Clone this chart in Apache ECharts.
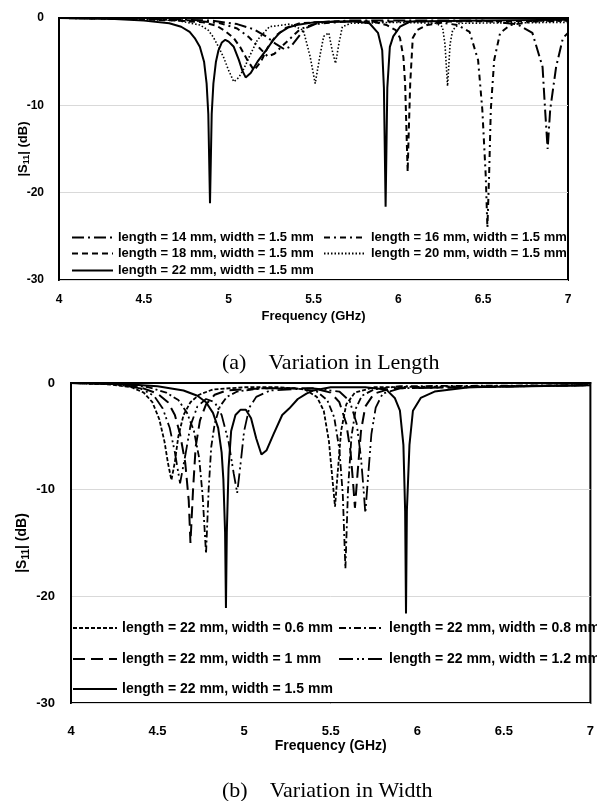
<!DOCTYPE html>
<html><head><meta charset="utf-8">
<script src="https://cdn.jsdelivr.net/npm/echarts@6/dist/echarts.min.js"></script>
<style>html,body{margin:0;padding:0;background:#fff}#c{width:597px;height:801px}</style>
</head><body><div id="c"></div>
<script>
// ---------- DATA ----------
const freqRange = [4, 7];
const dbRange = [-30, 0];
const captionA = '(a)    Variation in Length';
const captionB = '(b)    Variation in Width';

const namesA = [
  'length = 14 mm, width = 1.5 mm',
  'length = 16 mm, width = 1.5 mm',
  'length = 18 mm, width = 1.5 mm',
  'length = 20 mm, width = 1.5 mm',
  'length = 22 mm, width = 1.5 mm'
];
const namesB = [
  'length = 22 mm, width = 0.6 mm',
  'length = 22 mm, width = 0.8 mm',
  'length = 22 mm, width = 1 mm',
  'length = 22 mm, width = 1.2 mm',
  'length = 22 mm, width = 1.5 mm'
];

// (a) variation in length: [GHz, dB]
const len14 = [[4.00,0],[4.60,-0.1],[4.90,-0.3],[5.05,-0.7],[5.15,-1.3],[5.22,-2.1],[5.28,-3.0],[5.33,-3.6],[5.37,-3.2],[5.41,-2.2],[5.45,-1.2],[5.52,-0.6],[5.70,-0.3],[6.50,-0.3],[6.70,-0.7],[6.79,-1.7],[6.85,-5.6],[6.865,-10.5],[6.88,-15.0],[6.895,-10.5],[6.93,-5.6],[6.97,-2.3],[7.00,-1.7]];
const len16 = [[4.00,0],[4.50,-0.1],[4.80,-0.3],[4.95,-0.6],[5.05,-1.2],[5.12,-2.2],[5.18,-3.4],[5.23,-4.4],[5.27,-4.1],[5.31,-3.3],[5.36,-2.4],[5.42,-1.3],[5.50,-0.7],[5.70,-0.4],[6.20,-0.4],[6.35,-0.8],[6.42,-1.6],[6.47,-4.8],[6.495,-10.5],[6.515,-18.0],[6.525,-24.0],[6.535,-18.0],[6.545,-10.5],[6.565,-4.8],[6.60,-1.7],[6.66,-0.8],[6.80,-0.4],[7.00,-0.3]];
const len18 = [[4.00,0],[4.40,-0.1],[4.70,-0.3],[4.85,-0.5],[4.93,-0.9],[4.98,-1.5],[5.03,-2.3],[5.07,-3.4],[5.11,-4.8],[5.15,-6.0],[5.19,-5.0],[5.23,-3.4],[5.28,-2.0],[5.34,-1.1],[5.42,-0.6],[5.60,-0.4],[5.85,-0.4],[5.93,-0.8],[5.985,-1.4],[6.01,-2.3],[6.03,-4.5],[6.04,-7.5],[6.05,-14.3],[6.055,-17.6],[6.06,-14.0],[6.07,-7.5],[6.085,-2.3],[6.11,-1.4],[6.17,-0.8],[6.30,-0.4],[7.00,-0.3]];
const len20 = [[4.00,0],[4.40,-0.1],[4.70,-0.3],[4.83,-0.8],[4.88,-1.4],[4.91,-2.2],[4.94,-3.3],[4.97,-4.5],[5.00,-6.0],[5.03,-7.3],[5.06,-6.8],[5.09,-5.8],[5.12,-4.5],[5.17,-2.5],[5.24,-1.0],[5.36,-0.7],[5.44,-1.4],[5.48,-4.4],[5.51,-7.5],[5.54,-4.1],[5.56,-2.1],[5.59,-1.7],[5.61,-3.7],[5.63,-5.2],[5.65,-2.9],[5.67,-1.0],[5.72,-0.6],[6.00,-0.5],[6.22,-0.6],[6.26,-1.0],[6.275,-3.0],[6.29,-7.8],[6.305,-3.0],[6.32,-1.4],[6.36,-0.6],[7.00,-0.5]];
const len22 = [[4.00,0],[4.30,-0.1],[4.50,-0.3],[4.65,-0.6],[4.72,-1.0],[4.77,-1.6],[4.80,-2.3],[4.83,-3.3],[4.855,-5.0],[4.87,-7.5],[4.88,-11.0],[4.89,-21.2],[4.90,-11.0],[4.91,-7.5],[4.925,-5.0],[4.94,-3.7],[4.96,-2.8],[4.98,-2.5],[5.00,-2.7],[5.03,-3.3],[5.06,-4.8],[5.08,-6.0],[5.10,-6.8],[5.13,-6.3],[5.17,-5.0],[5.22,-3.7],[5.26,-2.6],[5.30,-1.7],[5.35,-1.1],[5.40,-0.8],[5.50,-0.5],[5.65,-0.4],[5.75,-0.4],[5.83,-0.6],[5.88,-1.7],[5.905,-3.7],[5.915,-8.0],[5.925,-21.6],[5.935,-8.0],[5.95,-3.3],[5.97,-2.1],[6.01,-1.0],[6.07,-0.4],[6.50,-0.3],[7.00,-0.2]];

// (b) variation in width: [GHz, dB]
const wid06 = [[4.00,0],[4.20,-0.1],[4.35,-0.4],[4.42,-0.9],[4.47,-1.8],[4.51,-3.4],[4.54,-5.5],[4.56,-7.5],[4.58,-9.1],[4.60,-7.4],[4.62,-5.0],[4.65,-3.0],[4.69,-1.8],[4.74,-1.1],[4.82,-0.6],[5.00,-0.4],[5.20,-0.4],[5.35,-0.6],[5.42,-1.3],[5.46,-2.6],[5.49,-5.5],[5.51,-9.0],[5.525,-11.6],[5.54,-8.5],[5.56,-4.5],[5.59,-2.0],[5.64,-0.9],[5.75,-0.4],[7.00,-0.2]];
const wid08 = [[4.00,0],[4.30,-0.1],[4.45,-0.4],[4.55,-0.9],[4.62,-1.6],[4.67,-2.8],[4.71,-4.5],[4.74,-7.0],[4.76,-10.5],[4.78,-16.0],[4.795,-10.0],[4.81,-6.0],[4.83,-3.8],[4.86,-2.2],[4.90,-1.3],[4.96,-0.8],[5.10,-0.5],[5.30,-0.5],[5.42,-0.8],[5.48,-1.6],[5.52,-3.2],[5.55,-6.2],[5.57,-10.5],[5.585,-17.4],[5.60,-10.0],[5.62,-5.0],[5.645,-2.4],[5.68,-1.2],[5.75,-0.6],[5.90,-0.3],[7.00,-0.2]];
const wid10 = [[4.00,0],[4.25,-0.1],[4.40,-0.4],[4.50,-1.0],[4.56,-1.8],[4.60,-3.0],[4.63,-4.8],[4.66,-7.5],[4.68,-11.0],[4.69,-15.0],[4.705,-10.0],[4.72,-6.0],[4.745,-3.5],[4.78,-2.0],[4.83,-1.1],[4.90,-0.7],[5.10,-0.5],[5.40,-0.5],[5.50,-0.9],[5.55,-1.8],[5.59,-3.8],[5.615,-6.5],[5.63,-9.5],[5.64,-11.7],[5.655,-8.5],[5.675,-4.5],[5.70,-2.2],[5.75,-1.0],[5.85,-0.5],[7.00,-0.2]];
const wid12 = [[4.00,0],[4.25,-0.1],[4.40,-0.5],[4.48,-1.2],[4.53,-2.4],[4.57,-4.2],[4.60,-6.5],[4.63,-9.4],[4.66,-6.8],[4.69,-4.0],[4.73,-2.2],[4.78,-1.5],[4.83,-1.8],[4.87,-3.0],[4.91,-5.5],[4.94,-8.5],[4.96,-10.3],[4.98,-7.5],[5.00,-4.5],[5.03,-2.3],[5.07,-1.3],[5.15,-0.7],[5.40,-0.5],[5.55,-0.8],[5.61,-1.7],[5.65,-3.8],[5.675,-7.0],[5.69,-10.0],[5.70,-12.2],[5.715,-9.0],[5.735,-4.8],[5.76,-2.3],[5.80,-1.0],[5.90,-0.5],[7.00,-0.2]];
const wid15 = [[4.00,0],[4.30,-0.1],[4.50,-0.3],[4.65,-0.7],[4.73,-1.2],[4.78,-1.8],[4.82,-2.8],[4.85,-4.2],[4.87,-6.5],[4.88,-9.0],[4.89,-14.0],[4.895,-21.1],[4.90,-14.0],[4.91,-8.0],[4.925,-4.5],[4.95,-3.0],[4.98,-2.5],[5.01,-2.5],[5.04,-3.3],[5.07,-5.2],[5.10,-6.7],[5.13,-6.3],[5.17,-4.8],[5.22,-3.0],[5.26,-2.4],[5.31,-1.5],[5.36,-1.0],[5.40,-0.7],[5.50,-0.4],[5.70,-0.4],[5.82,-0.6],[5.87,-1.4],[5.90,-2.6],[5.92,-5.8],[5.93,-12.0],[5.935,-21.6],[5.94,-12.0],[5.955,-5.8],[5.975,-2.6],[6.02,-1.4],[6.10,-0.8],[6.30,-0.4],[7.00,-0.2]];

// ---------- STYLES ----------
const dataA = [len14, len16, len18, len20, len22];
const dataB = [wid06, wid08, wid10, wid12, wid15];
const dashA = [[12,4,2,4],[6,4,2,4],[6,4],[1.5,2],'solid'];
const widthA = [2,2,2,1.6,2];
const dashB = [[4,2],[7,3,2,3],[12,6],[14,4,2,3,2,4],'solid'];
const widthB = [1.8,1.8,2,1.8,2];

const FONT = 'Liberation Sans, Arial, sans-serif';
const series = [];
dataA.forEach((d,i)=>series.push({name:namesA[i],type:'line',xAxisIndex:0,yAxisIndex:0,data:d,symbol:'none',showSymbol:false,
  color:'#000',itemStyle:{color:'#000'},lineStyle:{color:'#000',width:widthA[i],type:dashA[i]},z:i===4?5:3}));
dataB.forEach((d,i)=>series.push({name:namesB[i]+' ',type:'line',xAxisIndex:1,yAxisIndex:1,data:d,symbol:'none',showSymbol:false,
  color:'#000',itemStyle:{color:'#000'},lineStyle:{color:'#000',width:widthB[i],type:dashB[i]},z:i===4?5:3}));

function xAxis(gi, fs, margin, gap){
  return {type:'value',gridIndex:gi,min:freqRange[0],max:freqRange[1],interval:0.5,
    axisLine:{show:true,lineStyle:{color:'#000',width:2}},axisTick:{show:false},splitLine:{show:false},
    axisLabel:{color:'#000',fontWeight:'bold',fontSize:fs,fontFamily:FONT,margin:margin},
    name:'Frequency (GHz)',nameLocation:'middle',nameGap:gap,nameMoveOverlap:false,
    nameTextStyle:{color:'#000',fontWeight:'bold',fontSize:fs+1,fontFamily:FONT}};
}
function yAxis(gi, fs, margin, gap){
  return {type:'value',gridIndex:gi,min:dbRange[0],max:dbRange[1],interval:10,
    axisLine:{show:true,lineStyle:{color:'#000',width:2}},axisTick:{show:false},
    splitLine:{show:true,lineStyle:{color:'#d9d9d9',width:1}},
    axisLabel:{color:'#000',fontWeight:'bold',fontSize:fs,fontFamily:FONT,margin:margin},
    name:'|S{sub|11}| (dB)',nameLocation:'middle',nameGap:gap,nameRotate:90,nameMoveOverlap:false,
    nameTextStyle:{color:'#000',fontWeight:'bold',fontSize:fs+1,fontFamily:FONT,
      rich:{sub:{fontSize:fs-3,fontWeight:'bold',fontFamily:FONT,color:'#000',padding:[7,0,0,0]}}}};
}

function leg(name, left, top, iw, fs){
  return {data:[name],left:left,top:top,itemWidth:iw,itemHeight:12,padding:0,orient:'horizontal',
    selectedMode:false,itemStyle:{opacity:0,borderWidth:0},
    textStyle:{color:'#000',fontWeight:'bold',fontSize:fs,fontFamily:FONT}};
}
const legends = [
  leg(namesA[0],71,231,41,13), leg(namesA[1],323,231,42,13),
  leg(namesA[2],71,247,41,13), leg(namesA[3],323,247,42,13),
  leg(namesA[4],71,264,41,13),
  leg(namesB[0]+' ',72,621,44,14), leg(namesB[1]+' ',338,621,45,14),
  leg(namesB[2]+' ',72,652,44,14), leg(namesB[3]+' ',338,652,45,14),
  leg(namesB[4]+' ',72,682,44,14)
];

const option = {
  animation:false,
  backgroundColor:'#fff',
  grid:[
    {left:59,top:18,width:509,height:262,show:true,borderColor:'#000',borderWidth:2,backgroundColor:'transparent'},
    {left:71,top:383,width:523,height:320,show:true,borderColor:'#000',borderWidth:2,backgroundColor:'transparent'}
  ],
  xAxis:[xAxis(0,12,14,30), xAxis(1,13,22,36)],
  yAxis:[yAxis(0,12,15,28), yAxis(1,13,16,40)],
  legend:legends,
  series:series,
  graphic:[
    {type:'text',left:222,top:352,style:{text:captionA,font:'22px "Liberation Serif", "Times New Roman", serif',fill:'#000'}},
    {type:'text',left:222,top:780,style:{text:captionB,font:'22px "Liberation Serif", "Times New Roman", serif',fill:'#000'}}
  ]
};
const chart = echarts.init(document.getElementById('c'),null,{renderer:'canvas'});
chart.setOption(option);
</script></body></html>
